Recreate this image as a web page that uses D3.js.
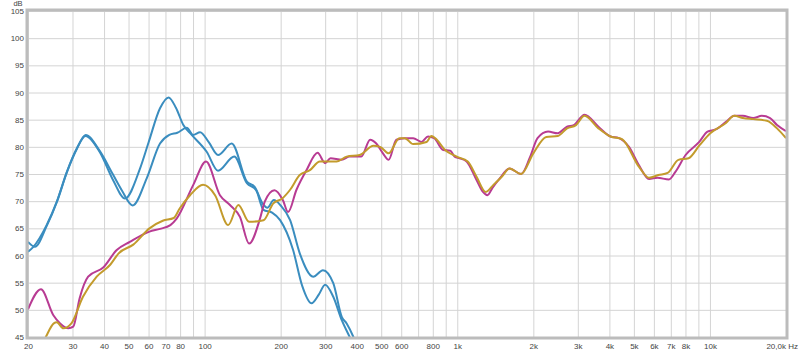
<!DOCTYPE html>
<html>
<head>
<meta charset="utf-8">
<script src="https://cdn.jsdelivr.net/npm/d3@7"></script>
<style>
  body { margin: 0; background: #fff; }
  text { font-family: "Liberation Sans", Arial, sans-serif; }
</style>
</head>
<body>
<svg id="chart"></svg>
<script>
// tick values and labels
var yTicks = [45, 50, 55, 60, 65, 70, 75, 80, 85, 90, 95, 100, 105];
var xGrid = [20, 30, 40, 50, 60, 70, 80, 90, 100, 200, 300, 400, 500, 600, 700, 800, 900,
  1000, 2000, 3000, 4000, 5000, 6000, 7000, 8000, 9000, 10000, 20000];
var xLabelValues = [20, 30, 40, 50, 60, 70, 80, 100, 200, 300, 400, 500, 600, 800,
  1000, 2000, 3000, 4000, 5000, 6000, 7000, 8000, 10000];
var xLabelTexts = ['20', '30', '40', '50', '60', '70', '80', '100', '200', '300', '400', '500', '600', '800',
  '1k', '2k', '3k', '4k', '5k', '6k', '7k', '8k', '10k'];

// blue curve 1 (peak near 70 Hz)
var blue1Freq = [20, 21, 23.7, 26, 28.5, 31.2, 33.8, 38.5, 43.5, 48.4, 55.5, 60, 66.6, 72, 77, 82.4, 88.9,
  101.9, 113, 131, 147, 160, 171, 185, 199, 224, 243, 265, 283, 300, 323, 349, 375, 400];
var blue1Db = [60.7, 61.6, 65.6, 69.9, 75.4, 79.7, 82.0, 79.0, 73.8, 70.5, 76.0, 80.8, 87.1, 89.1, 87.2, 84.0, 82.2,
  79.1, 75.6, 78.2, 73.3, 72.0, 68.4, 67.9, 66.5, 61.0, 54.5, 51.2, 52.8, 54.6, 52.4, 48.1, 45.0, 42.0];

// blue curve 2
var blue2Freq = [20, 21.3, 23.7, 26, 28.5, 31.2, 33.8, 38.5, 43.5, 47, 51.9, 59, 66.6, 72.5, 78, 85, 90, 96,
  104, 113, 128, 147, 158, 170, 177, 188, 200, 218, 238, 269, 294, 323, 349, 365, 388, 410];
var blue2Db = [62.5, 61.6, 65.4, 69.8, 75.3, 79.6, 82.2, 79.2, 74.8, 72.0, 69.2, 74.2, 80.6, 82.2, 82.6, 83.5, 82.2, 82.7,
  80.8, 78.5, 80.6, 73.6, 72.6, 69.5, 68.8, 70.2, 69.2, 66.5, 60.4, 56.1, 57.3, 54.9, 48.7, 47.5, 45.0, 42.0];

// magenta curve
var magentaFreq = [20, 22.5, 25.2, 26.8, 28.9, 30.2, 32, 34.6, 39.7, 44.9, 50.6, 60.5, 66.6, 73.2, 77.5, 90.2, 101.3,
  115, 126, 138, 150, 165.7, 173, 189, 204, 214, 231, 253, 280, 300, 315, 349, 375, 417, 452, 478, 508, 535,
  574, 619, 669, 722, 766, 810, 880, 939, 976, 1022, 1089, 1192, 1264, 1316, 1380, 1463, 1610, 1790, 1944,
  2078, 2288, 2497, 2718, 2890, 3190, 3620, 4040, 4360, 4780, 5240, 5740, 6200, 6880, 7300, 8010, 9070,
  9780, 10530, 11570, 12480, 13500, 14830, 16040, 17300, 18430, 20000];
var magentaDb = [50.1, 53.8, 49.0, 47.5, 46.6, 46.9, 52.1, 56.1, 57.8, 61.0, 62.5, 64.4, 64.9, 65.6, 66.8, 73.0, 77.3,
  71.1, 69.3, 67.1, 62.2, 66.8, 69.9, 72.0, 70.2, 68.0, 72.1, 75.7, 78.9, 77.0, 77.9, 77.6, 78.2, 78.2, 81.3, 80.6, 78.8, 77.6,
  81.3, 81.6, 81.6, 80.9, 81.9, 81.6, 79.4, 79.3, 78.2, 77.9, 77.3, 73.9, 71.7, 71.1, 72.5, 74.0, 76.0, 75.0, 78.2,
  81.6, 82.8, 82.5, 83.7, 84.0, 85.9, 83.7, 81.9, 81.6, 80.0, 76.6, 74.1, 74.3, 74.0, 75.4, 78.5, 80.9,
  82.8, 83.2, 84.6, 85.7, 85.7, 85.3, 85.7, 85.3, 84.0, 82.9];

// olive curve
var oliveFreq = [22.3, 23.4, 25.3, 26, 27.6, 29.7, 33, 37.4, 42.3, 45.7, 52.2, 60.5, 68.3, 75.5, 79.8, 87.6, 98.6,
  110, 124, 136, 150, 171, 187, 203, 218, 238, 261, 286, 333, 365, 411, 466, 495, 535, 590, 620, 669, 756,
  790, 830, 895, 995, 1100, 1192, 1296, 1390, 1500, 1610, 1790, 2000, 2250, 2500, 2720, 2950, 3190, 3620,
  4040, 4490, 5240, 5740, 6250, 6800, 7500, 8230, 9100, 10030, 11570, 12480, 13500, 14830, 16800, 18430, 20000];
var oliveDb = [43.0, 44.8, 47.5, 47.7, 46.6, 47.5, 52.4, 56.1, 58.3, 60.4, 62.0, 65.0, 66.4, 66.9, 68.7, 71.1, 73.0,
  71.1, 65.6, 69.3, 66.2, 66.5, 69.6, 70.5, 72.1, 74.8, 75.7, 77.3, 77.3, 78.2, 78.5, 80.2, 80.0, 78.8, 81.6, 81.6, 80.5, 80.9,
  82.0, 81.3, 79.4, 78.2, 77.3, 74.5, 71.7, 73.0, 74.5, 76.0, 75.0, 78.8, 81.8, 82.0, 83.4, 84.0, 85.7, 83.4,
  81.9, 81.4, 76.3, 74.3, 74.8, 75.2, 77.6, 77.9, 80.3, 82.5, 84.4, 85.7, 85.3, 85.1, 84.8, 83.4, 81.6];

var zip = (f, v) => f.map((d, i) => ({ f: d, db: v[i] }));

var series = [
  { color: '#3a8dbf', values: zip(blue1Freq, blue1Db) },
  { color: '#3a8dbf', values: zip(blue2Freq, blue2Db) },
  { color: '#b83b93', values: zip(magentaFreq, magentaDb) },
  { color: '#c39b2c', values: zip(oliveFreq, oliveDb) }
];

var render = (selector, size) => {
  var margin = size.margin;
  var width = size.width - margin.left - margin.right;
  var height = size.height - margin.top - margin.bottom;

  var x = d3.scaleLog()
    .domain([20, 20000])
    .range([0, width]);

  var y = d3.scaleLinear()
    .domain([45, 105])
    .range([height, 0]);

  var svg = d3.select(selector)
    .attr('width', size.width)
    .attr('height', size.height);

  var chart = svg.append('g')
    .attr('transform', `translate(${ margin.left }, ${ margin.top })`);

  // grid
  var xGridAxis = d3.axisBottom(x)
    .tickValues(xGrid)
    .tickSize(-height)
    .tickFormat('');
  chart.append('g')
    .attr('class', 'grid x')
    .attr('transform', `translate(0, ${ height })`)
    .call(xGridAxis);

  var yGridAxis = d3.axisLeft(y)
    .tickValues(yTicks)
    .tickSize(-width)
    .tickFormat('');
  chart.append('g')
    .attr('class', 'grid y')
    .call(yGridAxis);

  chart.selectAll('.grid .domain').remove();
  chart.selectAll('.grid line')
    .attr('stroke', '#d4d4d4')
    .attr('stroke-width', 1);

  // labels
  var labelMap = {};
  xLabelValues.forEach((v, i) => { labelMap[v] = xLabelTexts[i]; });

  var xAxis = d3.axisBottom(x)
    .tickValues(xLabelValues)
    .tickSize(0)
    .tickPadding(6)
    .tickFormat(d => labelMap[d]);
  var gx = chart.append('g')
    .attr('transform', `translate(0, ${ height })`)
    .call(xAxis);

  var yAxis = d3.axisLeft(y)
    .tickValues(yTicks)
    .tickSize(0)
    .tickPadding(4);
  var gy = chart.append('g')
    .call(yAxis);

  [gx, gy].forEach(g => {
    g.select('.domain').remove();
    g.selectAll('text')
      .attr('fill', '#444')
      .style('font-size', '8px')
      .style('font-family', '"Liberation Sans", Arial, sans-serif');
  });

  chart.append('text')
    .attr('x', width + margin.right - 2)
    .attr('y', height + 12)
    .attr('text-anchor', 'end')
    .attr('fill', '#444')
    .style('font-size', '8px')
    .text('20,0k Hz');

  chart.append('text')
    .attr('x', -10)
    .attr('y', -5.5)
    .attr('text-anchor', 'middle')
    .attr('fill', '#444')
    .style('font-size', '7.5px')
    .text('dB');

  // curves
  svg.append('defs').append('clipPath')
    .attr('id', 'plotclip')
    .append('rect')
    .attr('width', width)
    .attr('height', height);

  var line = d3.line()
    .x(d => x(d.f))
    .y(d => y(d.db))
    .curve(d3.curveMonotoneX);

  chart.append('g')
    .attr('clip-path', 'url(#plotclip)')
    .selectAll('.curve')
    .data(series)
    .enter().append('path')
    .attr('class', 'curve')
    .attr('d', d => line(d.values))
    .attr('fill', 'none')
    .attr('stroke', d => d.color)
    .attr('stroke-width', 2)
    .attr('stroke-linejoin', 'round');

  // frame
  chart.append('rect')
    .attr('x', -1)
    .attr('y', -1)
    .attr('width', width + 2)
    .attr('height', height + 2)
    .attr('fill', 'none')
    .attr('stroke', '#bcbcbc')
    .attr('stroke-width', 3);
};

render('#chart', {
  width: 800,
  height: 353,
  margin: { top: 11, right: 14, bottom: 16, left: 28 }
});
</script>
</body>
</html>
